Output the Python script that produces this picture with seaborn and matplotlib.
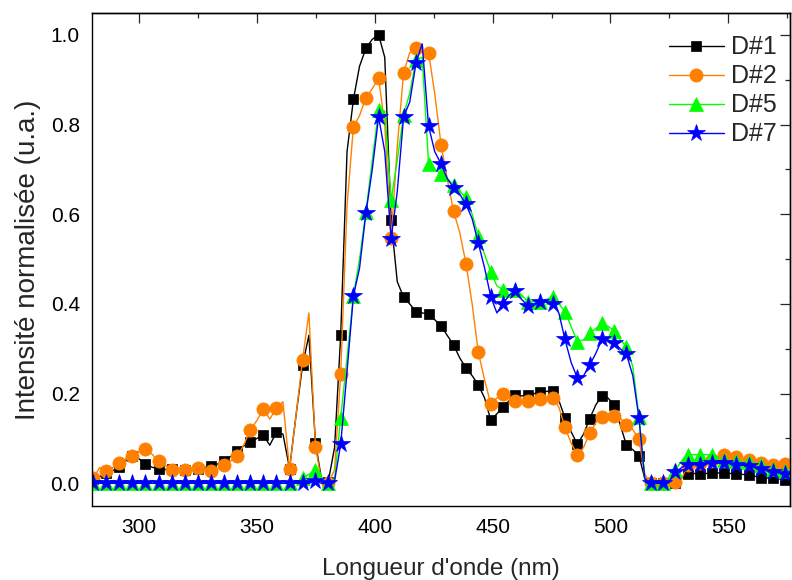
import matplotlib
matplotlib.use("Agg")
import matplotlib.pyplot as plt
import seaborn as sns
from matplotlib.ticker import MultipleLocator

# wavelength grid (nm) - markers sit on every second point
wavelength = [
    280.5, 283.2, 286.0, 288.7, 291.5, 294.2, 297.0, 299.8,
    302.6, 305.4, 308.2, 311.0, 313.8, 316.5, 319.3, 322.1,
    324.9, 327.6, 330.4, 333.2, 336.0, 338.8, 341.6, 344.3,
    347.1, 349.9, 352.7, 355.4, 358.2, 361.0, 363.8, 366.5,
    369.3, 372.0, 374.8, 377.5, 380.2, 382.9, 385.5, 388.2,
    390.9, 393.5, 396.2, 398.9, 401.6, 404.2, 406.9, 409.5,
    412.2, 414.8, 417.5, 420.1, 422.8, 425.4, 428.1, 430.7,
    433.4, 436.0, 438.7, 441.3, 443.9, 446.6, 449.2, 451.8,
    454.5, 457.1, 459.7, 462.3, 465.0, 467.6, 470.2, 472.8,
    475.5, 478.1, 480.7, 483.3, 486.0, 488.6, 491.2, 493.8,
    496.4, 499.0, 501.6, 504.2, 506.8, 509.5, 512.1, 514.6,
    517.2, 519.8, 522.4, 525.0, 527.6, 530.2, 532.8, 535.4,
    538.0, 540.6, 543.1, 545.7, 548.3, 550.9, 553.5, 556.1,
    558.7, 561.3, 563.8, 566.4, 569.0, 571.6, 574.2, 576.4,
]

d1 = [
    .010, .015, .022, .028, .036, .050, .062, .055,
    .043, .036, .032, .031, .031, .030, .030, .031,
    .033, .035, .039, .043, .050, .060, .073, .083,
    .092, .100, .107, .085, .114, .110, .033, .150,
    .263, .330, .090, .005, .003, .080, .330, .740,
    .856, .930, .970, .990, 1.000, .950, .588, .450,
    .415, .400, .383, .380, .377, .365, .351, .330,
    .309, .280, .257, .240, .220, .190, .141, .155,
    .171, .185, .197, .195, .197, .200, .204, .205,
    .207, .185, .146, .115, .087, .110, .144, .175,
    .195, .190, .175, .130, .085, .075, .062, .010,
    .000, .000, .000, .000, .000, .012, .021, .022,
    .021, .022, .023, .023, .023, .022, .021, .020,
    .018, .016, .012, .012, .011, .010, .008, .008,
]

d2 = [
    .012, .035, .028, .035, .045, .055, .062, .070,
    .077, .065, .049, .040, .030, .030, .030, .033,
    .035, .035, .027, .032, .042, .050, .060, .085,
    .119, .140, .166, .143, .168, .182, .031, .150,
    .275, .380, .082, .000, .000, .030, .244, .620,
    .795, .820, .860, .880, .903, .800, .546, .750,
    .916, .960, .970, .960, .960, .870, .755, .680,
    .607, .560, .490, .400, .293, .230, .177, .190,
    .199, .190, .183, .183, .183, .186, .188, .190,
    .191, .170, .125, .090, .064, .080, .112, .135,
    .149, .150, .151, .145, .131, .120, .098, .020,
    .000, .000, .000, .000, .003, .010, .040, .042,
    .045, .048, .052, .058, .064, .064, .059, .056,
    .052, .048, .045, .043, .041, .042, .044, .045,
]

d5 = [
    .000, .000, .000, .000, .000, .000, .000, .000,
    .000, .000, .000, .000, .000, .000, .000, .000,
    .000, .000, .000, .000, .000, .000, .000, .000,
    .000, .000, .000, .000, .000, .000, .000, .000,
    .012, .020, .030, .008, .000, .010, .146, .280,
    .418, .500, .605, .720, .832, .830, .631, .720,
    .821, .870, .945, .950, .713, .700, .690, .680,
    .665, .650, .638, .600, .552, .510, .472, .440,
    .432, .430, .431, .420, .405, .405, .405, .410,
    .416, .400, .383, .350, .316, .320, .336, .345,
    .357, .350, .340, .320, .305, .260, .149, .010,
    .000, .000, .000, .010, .030, .050, .064, .064,
    .064, .064, .063, .058, .053, .051, .049, .048,
    .048, .045, .042, .038, .033, .030, .028, .028,
]

d7 = [
    .000, .000, .000, .000, .000, .000, .000, .000,
    .000, .000, .000, .000, .000, .000, .000, .000,
    .000, .000, .000, .000, .000, .000, .000, .000,
    .000, .000, .000, .000, .000, .000, .000, .000,
    .000, .000, .005, .000, .000, .005, .087, .250,
    .418, .480, .602, .700, .817, .740, .545, .650,
    .817, .850, .938, .980, .797, .740, .712, .680,
    .659, .645, .622, .590, .536, .480, .416, .380,
    .401, .420, .428, .410, .396, .400, .405, .405,
    .400, .380, .321, .270, .234, .240, .264, .290,
    .321, .320, .314, .300, .288, .240, .146, .010,
    .000, .000, .000, .005, .025, .035, .042, .042,
    .042, .044, .045, .045, .045, .044, .042, .040,
    .038, .036, .033, .030, .025, .023, .021, .020,
]

sns.set_theme(style="white")
plt.rcParams['font.family'] = ['Liberation Sans', 'DejaVu Sans']

fig = plt.figure(figsize=(7.92, 5.8), dpi=100)
ax = fig.add_axes([0.1165, 0.128, 0.8815, 0.849])

series = [
    ("D#1", d1, "black", "s", 7),
    ("D#2", d2, "#FF8000", "o", 9.5),
    ("D#5", d5, "#00FF00", "^", 9.5),
    ("D#7", d7, "#0000FF", "*", 13),
]
for name, vals, col, mk, ms in series:
    sns.lineplot(x=wavelength, y=vals, ax=ax, color=col, linewidth=1,
                 marker=mk, markersize=ms, markevery=2,
                 markeredgecolor=col, markeredgewidth=0.5,
                 label=name, estimator=None, sort=False)

ax.set_xlim(280.05, 576.4)
ax.set_ylim(-0.05, 1.048)
ax.xaxis.set_major_locator(MultipleLocator(50))
ax.xaxis.set_minor_locator(MultipleLocator(25))
ax.yaxis.set_major_locator(MultipleLocator(0.2))
ax.yaxis.set_minor_locator(MultipleLocator(0.1))
ax.tick_params(which='major', direction='out', length=7, width=0.9,
               labelsize=15, pad=2, colors='black', top=False, right=False)
ax.tick_params(which='minor', direction='out', length=3.6, width=0.9,
               top=False, right=False)
for sp in ax.spines.values():
    sp.set_color('black')
    sp.set_linewidth(1.0)

# mirrored axes with inward ticks (top / right)
top = ax.secondary_xaxis('top')
top.xaxis.set_major_locator(MultipleLocator(50))
top.xaxis.set_minor_locator(MultipleLocator(25))
top.tick_params(which='major', direction='in', length=7, width=0.9, labeltop=False)
top.tick_params(which='minor', direction='in', length=3.6, width=0.9)
right = ax.secondary_yaxis('right')
right.yaxis.set_major_locator(MultipleLocator(0.2))
right.yaxis.set_minor_locator(MultipleLocator(0.1))
right.tick_params(which='major', direction='in', length=7, width=0.9, labelright=False)
right.tick_params(which='minor', direction='in', length=3.6, width=0.9)
for sec in (top, right):
    for sp in sec.spines.values():
        sp.set_color('black')
        sp.set_linewidth(1.0)

ax.set_xlabel("Longueur d'onde (nm)", fontsize=17.5, labelpad=15)
ax.set_ylabel("Intensité normalisée (u.a.)", fontsize=20, labelpad=7)

ax.legend(loc='upper left', bbox_to_anchor=(0.826, 0.955), frameon=False,
          fontsize=18, handlelength=2.2, handletextpad=0.3,
          labelspacing=0.2, borderpad=0, borderaxespad=0)

fig.savefig("out.png", dpi=100)
